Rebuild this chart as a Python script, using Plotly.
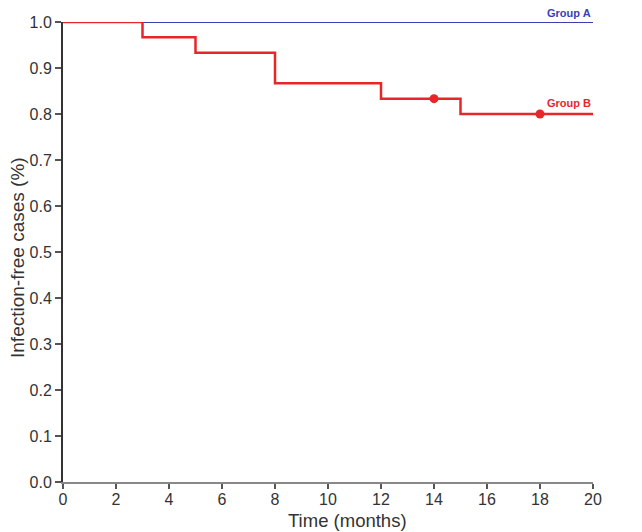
import plotly.graph_objects as go

# Data
group_a_time = [0, 20]
group_a_surv = [1.0, 1.0]
group_b_time = [0, 3, 5, 8, 12, 15, 20]
group_b_surv = [1.0, 0.9667, 0.9333, 0.8667, 0.8333, 0.8, 0.8]
censor_time = [14, 18]
censor_surv = [0.8333, 0.8]
x_ticks = [0, 2, 4, 6, 8, 10, 12, 14, 16, 18, 20]
y_ticks = [0.0, 0.1, 0.2, 0.3, 0.4, 0.5, 0.6, 0.7, 0.8, 0.9, 1.0]

blue = "#3d3db5"
red = "#e8262a"
font_family = "Liberation Sans Narrow, Liberation Sans, Arial"

fig = go.Figure()
fig.add_trace(go.Scatter(x=group_a_time, y=group_a_surv, mode="lines",
                         line=dict(color=blue, width=2.2), line_shape="hv"))
fig.add_trace(go.Scatter(x=group_b_time, y=group_b_surv, mode="lines",
                         line=dict(color=red, width=2.5), line_shape="hv"))
fig.add_trace(go.Scatter(x=censor_time, y=censor_surv, mode="markers",
                         marker=dict(color=red, size=9)))

fig.add_annotation(x=20, y=1.0, text="<b>Group A</b>", showarrow=False,
                   xanchor="right", yanchor="bottom", yshift=1,
                   font=dict(family=font_family, size=11, color=blue))
fig.add_annotation(x=20, y=0.8, text="<b>Group B</b>", showarrow=False,
                   xanchor="right", yanchor="bottom", yshift=3,
                   font=dict(family=font_family, size=11, color=red))

# Axis titles
fig.add_annotation(x=10.75, xref="x", y=0, yref="paper", text="Time (months)",
                   showarrow=False, xanchor="center", yanchor="middle", yshift=-38,
                   font=dict(family=font_family, size=18.5, color="#333"))
fig.add_annotation(x=0, xref="paper", y=0.487, yref="paper", text="Infection-free cases (%)",
                   showarrow=False, xanchor="center", yanchor="middle", xshift=-45,
                   textangle=-90, font=dict(family=font_family, size=19, color="#333"))

fig.update_layout(
    width=634, height=524,
    margin=dict(l=55, r=49, t=14, b=50),
    paper_bgcolor="white", plot_bgcolor="white",
    showlegend=False,
    font=dict(family=font_family, color="#333", size=16),
)
fig.update_xaxes(range=[0, 20], tickvals=x_ticks, ticks="outside", ticklen=5,
                 tickcolor="#555", tickwidth=1.5, showgrid=False, zeroline=False,
                 showline=True, linecolor="#888", linewidth=1.5, automargin=False,
                 ticklabelstandoff=-3, tickfont=dict(size=16))
fig.update_yaxes(range=[0, 1.0], tickvals=y_ticks, ticktext=[f"{v:.1f}" for v in y_ticks],
                 ticks="outside", ticklen=6, tickcolor="#555", tickwidth=1.5,
                 showgrid=False, zeroline=False, showline=True, linecolor="#333",
                 linewidth=2, automargin=False,
                 tickfont=dict(size=16))

fig.write_html("out.html")
